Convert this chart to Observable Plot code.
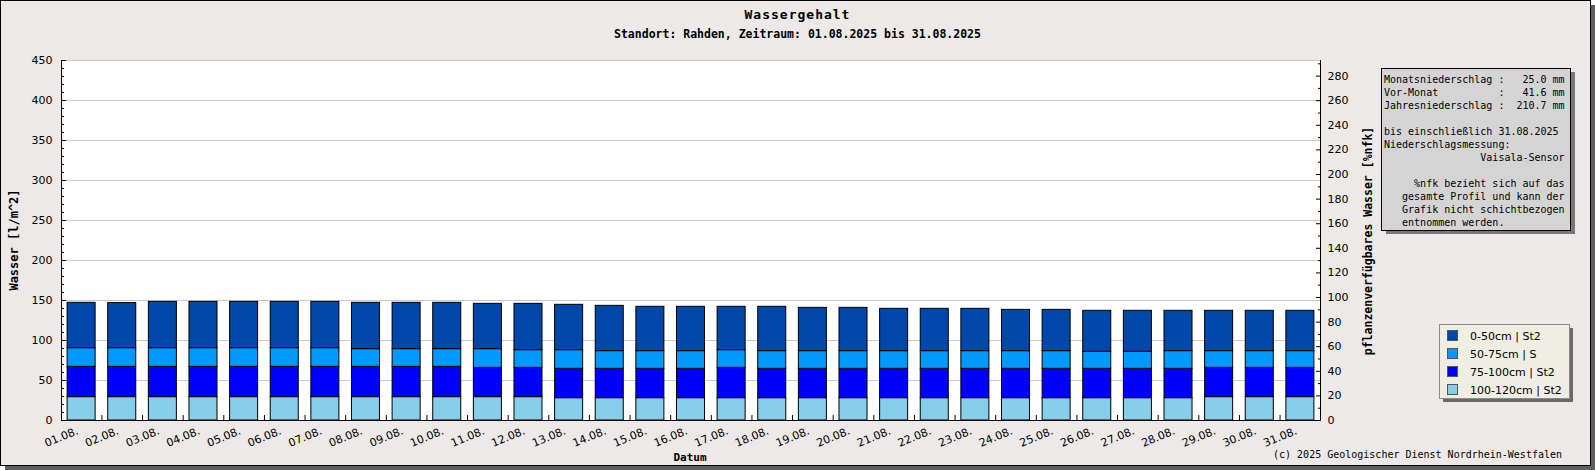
<!DOCTYPE html>
<html><head><meta charset="utf-8">
<script src="https://cdn.jsdelivr.net/npm/d3@7"></script>
<script src="https://cdn.jsdelivr.net/npm/@observablehq/plot@0.6"></script>
<style>
body{margin:0;background:#fff;}
#chart{width:1595px;height:470px;}
</style></head><body><div id="chart"></div>
<script>
const dates = ["01.08.","02.08.","03.08.","04.08.","05.08.","06.08.","07.08.","08.08.","09.08.","10.08.",
  "11.08.","12.08.","13.08.","14.08.","15.08.","16.08.","17.08.","18.08.","19.08.","20.08.",
  "21.08.","22.08.","23.08.","24.08.","25.08.","26.08.","27.08.","28.08.","29.08.","30.08.","31.08."];
const layers = ["0-50cm | St2","50-75cm | S","75-100cm | St2","100-120cm | St2"];
const colors = ["#0047AB","#0099FF","#0000FF","#87CEEB"];
// values in l/m^2 per layer and day
const l0_50 = [56.7,56.4,57.9,57.9,57.9,57.9,57.9,57.9,57.9,57.9,
  56.6,57.9,56.7,56.6,55.4,55.4,54.2,55.4,54.1,54.1,
  52.9,52.9,52.9,51.6,51.6,51.3,51.3,50.4,50.4,50.4,50.4];
const l50_75 = [23.3,23.3,23.3,23.3,23.3,23.3,23.3,22.1,22.1,22.1,
  23.4,22.1,23.3,22.1,22.1,22.1,22.1,22.1,22.1,22.1,
  22.1,22.1,22.1,22.1,22.1,21.2,21.2,22.1,20.9,20.9,20.9];
const l75_100 = [37.9,37.9,37.9,37.9,37.9,37.9,37.9,37.9,37.9,37.9,
  36.6,36.6,36.7,36.7,36.7,36.7,37.9,36.7,36.7,36.7,
  36.7,36.7,36.7,36.7,36.7,36.7,36.7,36.7,36.6,36.6,36.6];
const l100_120 = [29.2,29.2,29.2,29.2,29.2,29.2,29.2,29.2,29.2,29.2,
  29.2,29.2,27.9,27.9,27.9,27.9,27.9,27.9,27.9,27.9,
  27.9,27.9,27.9,27.9,27.9,27.9,27.9,27.9,29.2,29.2,29.2];
const leftTicks = [0,50,100,150,200,250,300,350,400,450];
const nfkTicks = [0,20,40,60,80,100,120,140,160,180,200,220,240,260,280];
const yMax = 450;       // l/m^2 at top of the plot
const nfkMax = 292.7;   // %nfk at top of the plot
const infoLines = [
  "Monatsniederschlag :   25.0 mm",
  "Vor-Monat          :   41.6 mm",
  "Jahresniederschlag :  210.7 mm",
  "",
  "bis einschließlich 31.08.2025",
  "Niederschlagsmessung:",
  "                Vaisala-Sensor",
  "",
  "     %nfk bezieht sich auf das",
  "   gesamte Profil und kann der",
  "   Grafik nicht schichtbezogen",
  "   entnommen werden."
];

const stackOrder = [
  [layers[3], l100_120], [layers[2], l75_100], [layers[1], l50_75], [layers[0], l0_50]
];
const data = [];
dates.forEach((d, i) => stackOrder.forEach(([layer, arr]) => data.push({date: d, layer, value: arr[i]})));

const W = 1595, H = 470, mL = 61, mR = 275, mT = 60, mB = 50;
const padI = 0.31, padO = 0.15;
const step = (W - mL - mR) / (dates.length - padI + 2 * padO);
const toUnits = v => v * yMax / nfkMax;
const minorLeft = d3.range(0, 451, 10).filter(v => v % 50 !== 0);
const minorRight = d3.range(10, 291, 20);

const plot = Plot.plot({
  width: W, height: H,
  marginLeft: mL, marginRight: mR, marginTop: mT, marginBottom: mB,
  style: {background: "transparent", fontFamily: "DejaVu Sans", fontSize: "11px", color: "#000"},
  x: {type: "band", domain: dates, paddingInner: padI, paddingOuter: padO, round: false},
  y: {domain: [0, yMax]},
  color: {domain: layers, range: colors},
  marks: [
    Plot.frame({fill: "white", stroke: null}),
    Plot.gridY(leftTicks, {stroke: "#c8c8c8", strokeOpacity: 1}),
    Plot.barY(data, {x: "date", y: "value", fill: "layer", stroke: "black", strokeWidth: 1}),
    Plot.frame({stroke: "black"}),
    Plot.ruleY([yMax], {stroke: "#c8c8c8"}),
    // left axis
    Plot.axisY({anchor: "left", ticks: leftTicks, tickSize: 0, tickPadding: 9, label: null}),
    Plot.axisY({anchor: "left", ticks: leftTicks, tickSize: 5, dx: 5, tickFormat: () => "", label: null}),
    Plot.axisY({anchor: "left", ticks: minorLeft, tickSize: 3, dx: 3, tickFormat: () => "", label: null}),
    // right axis (%nfk)
    Plot.axisY({anchor: "right", ticks: nfkTicks.map(toUnits), tickSize: 0, tickPadding: 7,
      tickFormat: d => String(Math.round(d * nfkMax / yMax)), label: null}),
    Plot.axisY({anchor: "right", ticks: nfkTicks.map(toUnits), tickSize: 5, dx: -5, tickFormat: () => "", label: null}),
    Plot.axisY({anchor: "right", ticks: minorRight.map(toUnits), tickSize: 3, dx: -3, tickFormat: () => "", label: null}),
    // x axis
    Plot.axisX({anchor: "bottom", tickSize: 0, tickPadding: 10, tickRotate: -22, dx: -4, label: null}),
    Plot.axisX({anchor: "bottom", ticks: dates.slice(0, -1), tickSize: 5, dy: -5, dx: step / 2, tickFormat: () => "", label: null})
  ]
});

document.getElementById("chart").appendChild(plot);
const svg = d3.select(plot);
svg.insert("rect", ":first-child").attr("x", 0.5).attr("y", 0.5).attr("width", 1590).attr("height", 465)
  .attr("fill", "#ECE9E8").attr("stroke", "#000");
svg.insert("rect", ":first-child").attr("x", 5).attr("y", 5).attr("width", 1590).attr("height", 465).attr("fill", "#5e5e5e");

const mono = "DejaVu Sans Mono";
const g = svg.append("g").attr("text-anchor", "start");
g.append("text").attr("x", 797.5).attr("y", 18.5).attr("text-anchor", "middle")
  .attr("font-family", mono).attr("font-weight", "bold").attr("font-size", 13).attr("letter-spacing", 1).text("Wassergehalt");
g.append("text").attr("x", 797.5).attr("y", 37.5).attr("text-anchor", "middle")
  .attr("font-family", mono).attr("font-weight", "bold").attr("font-size", 11.5).text("Standort: Rahden, Zeitraum: 01.08.2025 bis 31.08.2025");
g.append("text").attr("transform", "translate(14,240) rotate(-90)").attr("text-anchor", "middle").attr("dominant-baseline", "central")
  .attr("font-family", mono).attr("font-weight", "bold").attr("font-size", 12).text("Wasser [l/m^2]");
g.append("text").attr("transform", "translate(1368,241) rotate(-90)").attr("text-anchor", "middle").attr("dominant-baseline", "central")
  .attr("font-family", mono).attr("font-weight", "bold").attr("font-size", 11.5).text("pflanzenverfügbares Wasser [%nfk]");
g.append("text").attr("x", 690).attr("y", 461).attr("text-anchor", "middle")
  .attr("font-family", mono).attr("font-weight", "bold").attr("font-size", 11).text("Datum");
g.append("text").attr("x", 1562).attr("y", 458).attr("text-anchor", "end")
  .attr("font-family", mono).attr("font-size", 10).text("(c) 2025 Geologischer Dienst Nordrhein-Westfalen");

// info box
g.append("rect").attr("x", 1386).attr("y", 72).attr("width", 189).attr("height", 162).attr("fill", "#777");
g.append("rect").attr("x", 1381.5).attr("y", 68.5).attr("width", 189).attr("height", 162).attr("fill", "#D4D4D4").attr("stroke", "#000");
infoLines.forEach((t, i) => {
  g.append("text").attr("x", 1384).attr("y", 83.3 + 13 * i).attr("text-anchor", "start")
    .attr("font-family", mono).attr("font-size", 10)
    .style("white-space", "pre").text(t);
});

// legend
g.append("rect").attr("x", 1443).attr("y", 328).attr("width", 130).attr("height", 74).attr("fill", "#6a6a6a");
g.append("rect").attr("x", 1439.5).attr("y", 324.5).attr("width", 130).attr("height", 74).attr("fill", "#EEEEE2").attr("stroke", "#8a8a8a");
layers.forEach((l, i) => {
  g.append("rect").attr("x", 1447.5).attr("y", 330.5 + 18 * i).attr("width", 10).attr("height", 10)
    .attr("fill", colors[i]).attr("stroke", "#555");
  g.append("text").attr("x", 1470).attr("y", 339.5 + 18 * i).attr("text-anchor", "start")
    .attr("font-family", "DejaVu Sans").attr("font-size", 11).text(l);
});
</script></body></html>
